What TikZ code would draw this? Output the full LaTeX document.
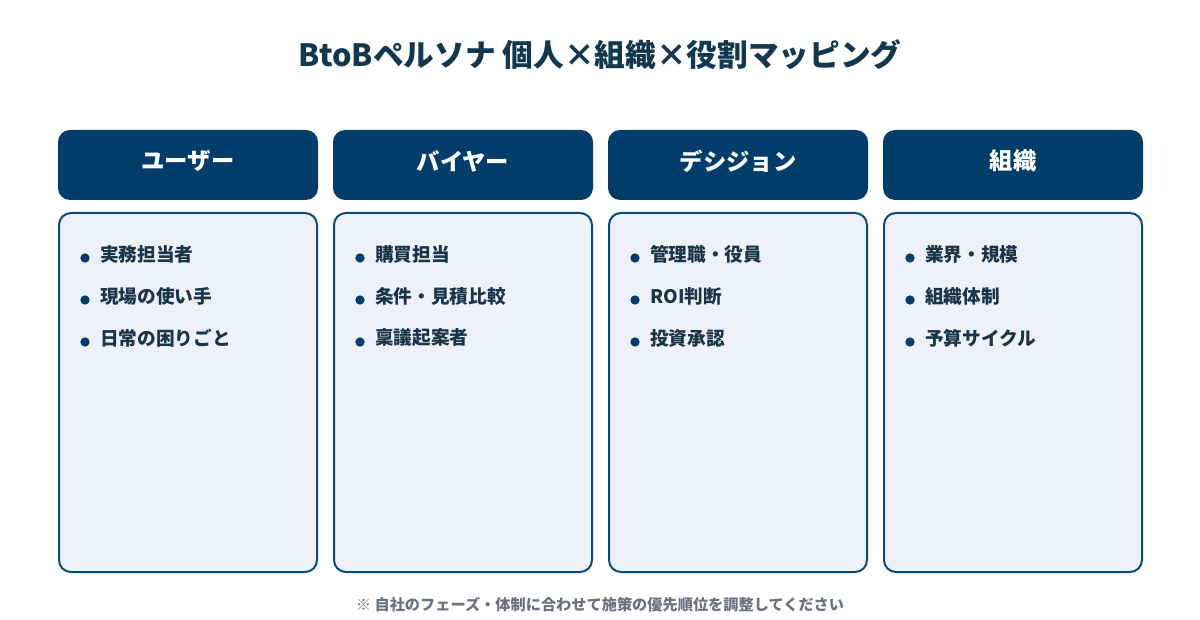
\documentclass[tikz,border=0pt]{standalone}
\usepackage{fontspec}
\setmainfont{Noto Sans CJK JP}[BoldFont={Noto Sans CJK JP Black}]
\definecolor{navy}{HTML}{003D6B}
\definecolor{titlec}{HTML}{12384F}
\definecolor{itemc}{HTML}{1A3547}
\definecolor{bodyfill}{HTML}{EEF2F8}
\definecolor{bodyline}{HTML}{0B4A7E}
\definecolor{footc}{HTML}{6B7280}
\tikzset{
  headbox/.style={fill=navy, draw=none, rounded corners=9pt},
  bodybox/.style={fill=bodyfill, draw=bodyline, line width=1.5pt, rounded corners=9pt},
  headtext/.style={text=white, font=\bfseries\fontsize{17.5}{21}\selectfont},
  itemtext/.style={text=itemc, anchor=west, inner sep=0pt, font=\bfseries\fontsize{14}{17}\selectfont},
  dot/.style={circle, fill=navy, inner sep=0pt, minimum size=7pt},
}
\begin{document}
\begin{tikzpicture}[x=0.75pt,y=-0.75pt]
\useasboundingbox[fill=white] (0,0) rectangle (1200,620);
\node[text=titlec, font=\bfseries\fontsize{23}{27}\selectfont] (title) at (600,55) {BtoBペルソナ 個人×組織×役割マッピング};
\foreach \i/\x/\h/\a/\b/\c in {
  1/58/ユーザー/実務担当者/現場の使い手/日常の困りごと,
  2/333/バイヤー/購買担当/条件・見積比較/稟議起案者,
  3/608/デシジョン/管理職・役員/ROI判断/投資承認,
  4/883/組織/業界・規模/組織体制/予算サイクル}{
  \path[headbox] (\x,130) rectangle ++(260,70);
  \node[headtext] (h\i) at (\x+130,161) {\h};
  \path[bodybox] (\x+1,213) rectangle ++(258,359);
  \node[dot] (d\i a) at (\x+27,258) {};
  \node[itemtext] (t\i a) at (\x+42,254) {\a};
  \node[dot] (d\i b) at (\x+27,300) {};
  \node[itemtext] (t\i b) at (\x+42,296) {\b};
  \node[dot] (d\i c) at (\x+27,342) {};
  \node[itemtext] (t\i c) at (\x+42,338) {\c};
}
\node[text=footc, font=\bfseries\fontsize{11.4}{14}\selectfont] (foot) at (600,605) {※ 自社のフェーズ・体制に合わせて施策の優先順位を調整してください};
\end{tikzpicture}
\end{document}
